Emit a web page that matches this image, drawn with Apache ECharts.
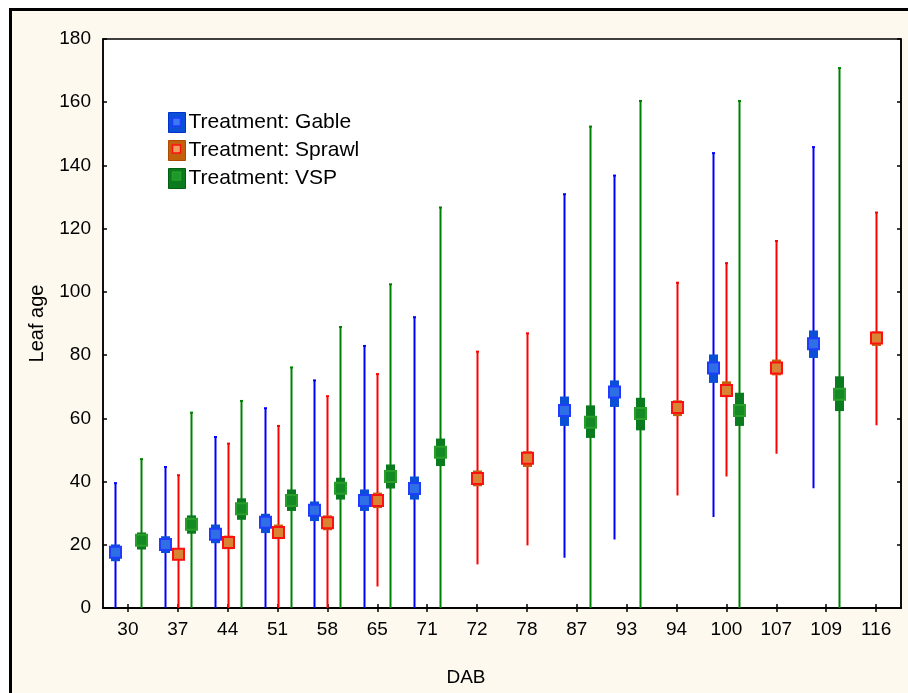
<!DOCTYPE html>
<html>
<head>
<meta charset="utf-8">
<script src="https://cdn.jsdelivr.net/npm/echarts@6/dist/echarts.min.js"></script>
<style>html,body{margin:0;padding:0;background:#fff}#c{width:908px;height:693px}</style>
</head>
<body>
<div id="c"></div>
<script>
// ---- Data ----
const categories = ['30','37','44','51','58','65','71','72','78','87','93','94','100','107','109','116'];
const yTicks = [0,20,40,60,80,100,120,140,160,180];

// Gable: mean, SE box low/high, whisker low/high (null = not measured)
const gableMean  = [17.6,20.1,23.3,27.1,30.9,34.0,37.8,null,null,62.5,68.3,null,75.9,null,83.6,null];
const gableSeLo  = [14.8,17.4,20.5,23.7,27.5,30.7,34.3,null,null,57.6,63.6,null,71.2,null,79.1,null];
const gableSeHi  = [20.1,22.7,26.4,29.8,33.7,37.5,41.6,null,null,66.9,72.0,null,80.2,null,87.8,null];
const gableLo    = [0,0,0,0,0,0,0,null,null,15.9,21.7,null,28.8,null,37.9,null];
const gableHi    = [39.5,44.6,54.1,63.2,72.0,82.9,92.0,null,null,130.9,136.8,null,143.9,null,145.8,null];

// Sprawl
const sprawlMean = [null,17.0,20.7,23.9,27.0,34.0,null,41.0,47.4,null,null,63.4,68.8,75.9,null,85.4];
const sprawlSeLo = [null,15.1,18.6,21.8,24.6,31.6,null,38.5,44.6,null,null,60.7,66.7,73.6,null,82.9];
const sprawlSeHi = [null,18.8,22.9,26.4,29.3,36.5,null,43.5,49.6,null,null,65.7,71.7,78.6,null,87.5];
const sprawlLo   = [null,0,0,0,0,6.8,null,13.8,19.8,null,null,35.6,41.6,48.8,null,57.8];
const sprawlHi   = [null,42.0,52.0,57.6,67.0,74.0,null,81.1,86.9,null,null,102.9,109.1,116.1,null,125.1];

// VSP
const vspMean    = [21.4,26.5,31.4,34.0,37.9,41.6,49.3,null,null,58.8,61.5,null,62.5,null,67.6,null];
const vspSeLo    = [18.5,23.5,27.9,30.7,34.3,37.8,44.9,null,null,53.8,56.2,null,57.6,null,62.3,null];
const vspSeHi    = [23.9,29.3,34.7,37.5,41.2,45.4,53.6,null,null,64.1,66.5,null,68.1,null,73.3,null];
const vspLo      = [0,0,0,0,0,0,0,null,null,0,0,null,0,null,0,null];
const vspHi      = [47.1,61.8,65.5,76.1,88.9,102.4,126.7,null,null,152.3,160.4,null,160.4,null,170.8,null];

const seriesNames = ['Treatment: Gable','Treatment: Sprawl','Treatment: VSP'];

// ---- Styles ----
const styles = [
  {offset:-0.26, whisker:'#0000ff', box:'#0a4fd6', mStroke:'#1f3cff', mFill:'#2f6fe6', legBorder:'#0033cc', legInner:'#3a7af0'},
  {offset:0,     whisker:'#ff0000', box:'#c2600c', mStroke:'#ff1010', mFill:'#d88434', legBorder:'#b04a00', legInner:'#f0a060'},
  {offset:0.26,  whisker:'#008000', box:'#0a7a1e', mStroke:'#2a9e2a', mFill:'#148a24', legBorder:'#006010', legInner:'#1a9a2a'}
];

function buildData(mean, seLo, seHi, lo, hi){
  const out = [];
  for (let i = 0; i < categories.length; i++) {
    if (mean[i] == null) continue;
    out.push([i, mean[i], seLo[i], seHi[i], lo[i], hi[i]]);
  }
  return out;
}
const datasets = [
  buildData(gableMean, gableSeLo, gableSeHi, gableLo, gableHi),
  buildData(sprawlMean, sprawlSeLo, sprawlSeHi, sprawlLo, sprawlHi),
  buildData(vspMean, vspSeLo, vspSeHi, vspLo, vspHi)
];

function makeRender(st){
  return function(params, api){
    const xi = api.value(0);
    const bw = api.size([1, 0])[0];
    const cm = api.coord([xi, api.value(1)]);
    const x = Math.round(cm[0] + st.offset * bw) + 0.5;
    const ySeLo = api.coord([xi, api.value(2)])[1];
    const ySeHi = api.coord([xi, api.value(3)])[1];
    const yLo = api.coord([xi, Math.max(api.value(4), 0)])[1];
    const yHi = api.coord([xi, api.value(5)])[1];
    const ym = cm[1];
    const boxW = 9, mk = 11;
    return {
      type: 'group',
      children: [
        {type:'line', shape:{x1:x, y1:yLo, x2:x, y2:yHi}, style:{stroke:st.whisker, lineWidth:2}},
        {type:'line', shape:{x1:x-1.5, y1:yHi, x2:x+1.5, y2:yHi}, style:{stroke:st.whisker, lineWidth:2}},
        {type:'rect', shape:{x:x-boxW/2, y:ySeHi, width:boxW, height:ySeLo-ySeHi}, style:{fill:st.box}},
        {type:'rect', shape:{x:x-mk/2, y:ym-mk/2, width:mk, height:mk}, style:{fill:st.mFill, stroke:st.mStroke, lineWidth:2}}
      ]
    };
  };
}

const chart = echarts.init(document.getElementById('c'), null, {renderer:'canvas'});
const font = 'Arial, "Liberation Sans", sans-serif';

// legend layout
const legLeft = 168, legTop = 112, legW = 17, legH = 20, legGap = 7;
const legendInner = styles.map((st, i) => ({
  type:'rect', z:100, silent:true,
  shape:{x: legLeft + legW/2 - 4, y: legTop + i*(legH+legGap) + legH/2 - 4, width:8, height:8},
  style:{fill:st.legInner, stroke:st.mStroke, lineWidth:1.5}
}));

const option = {
  backgroundColor: '#ffffff',
  animation: false,
  textStyle: {fontFamily: font},
  graphic: [
    {type:'rect', z:-10, silent:true, shape:{x:10.5, y:9.5, width:920, height:700}, style:{fill:'#fdf9ee', stroke:'#000', lineWidth:3}}
  ].concat(legendInner),
  grid: {left:103, right:7, top:39, bottom:85, show:true, backgroundColor:'#ffffff', borderColor:'#000', borderWidth:1.5},
  legend: {
    orient:'vertical', left:legLeft, top:legTop, padding:0, itemWidth:legW, itemHeight:legH, itemGap:legGap,
    textStyle:{fontSize:21, color:'#000', fontFamily:font, padding:[0,0,0,-2]},
    data: seriesNames.map((n, i) => ({name:n, icon:'rect', itemStyle:{color:styles[i].box, borderColor:styles[i].legBorder, borderWidth:1}}))
  },
  xAxis: [
    {type:'category', data:categories, position:'bottom', boundaryGap:true,
     name:'DAB', nameLocation:'middle', nameGap:60,
     nameTextStyle:{fontSize:19, color:'#000', padding:[0,72,0,0]},
     axisLine:{lineStyle:{color:'#000', width:1.5}},
     axisTick:{show:true, inside:true, alignWithLabel:true, length:4, lineStyle:{color:'#000', width:1.5}},
     axisLabel:{fontSize:19, color:'#000', margin:12},
     splitLine:{show:false}},
    {type:'category', data:categories, position:'top', boundaryGap:true,
     axisLine:{lineStyle:{color:'#000', width:1.5}},
     axisTick:{show:true, inside:true, alignWithLabel:true, length:4, lineStyle:{color:'#000', width:1.5}},
     axisLabel:{show:false}, splitLine:{show:false}}
  ],
  yAxis: [
    {type:'value', min:yTicks[0], max:yTicks[yTicks.length-1], interval:20, position:'left',
     name:'Leaf age', nameLocation:'middle', nameGap:56,
     nameTextStyle:{fontSize:20, color:'#000'},
     axisLine:{show:true, lineStyle:{color:'#000', width:1.5}},
     axisTick:{show:true, inside:true, length:4, lineStyle:{color:'#000', width:1.5}},
     axisLabel:{fontSize:19, color:'#000', margin:12},
     splitLine:{show:false}},
    {type:'value', min:yTicks[0], max:yTicks[yTicks.length-1], interval:20, position:'right',
     axisLine:{show:true, lineStyle:{color:'#000', width:1.5}},
     axisTick:{show:true, inside:true, length:4, lineStyle:{color:'#000', width:1.5}},
     axisLabel:{show:false}, splitLine:{show:false}}
  ],
  series: datasets.map((d, i) => ({
    type:'custom', name:seriesNames[i], xAxisIndex:0, yAxisIndex:0,
    itemStyle:{color:styles[i].box},
    renderItem: makeRender(styles[i]),
    encode:{x:0, y:[1,2,3,4,5]},
    data:d
  }))
};
chart.setOption(option);
</script>
</body>
</html>
